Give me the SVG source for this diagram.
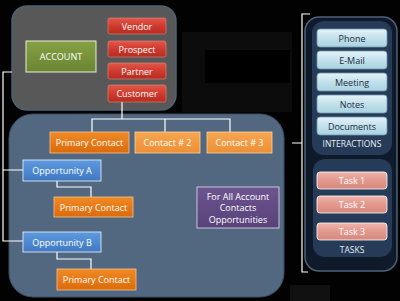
<svg xmlns="http://www.w3.org/2000/svg" width="400" height="301" viewBox="0 0 400 301">
<defs>
<linearGradient id="gRed" x1="0" y1="0" x2="0" y2="1"><stop offset="0" stop-color="#e2574a"/><stop offset="0.5" stop-color="#cf3b2e"/><stop offset="1" stop-color="#b52b20"/></linearGradient>
<linearGradient id="gGreen" x1="0" y1="0" x2="0" y2="1"><stop offset="0" stop-color="#86a043"/><stop offset="1" stop-color="#6a8532"/></linearGradient>
<linearGradient id="gOr" x1="0" y1="0" x2="0" y2="1"><stop offset="0" stop-color="#f08a25"/><stop offset="1" stop-color="#dc6a0a"/></linearGradient>
<linearGradient id="gOr2" x1="0" y1="0" x2="0" y2="1"><stop offset="0" stop-color="#f7a650"/><stop offset="1" stop-color="#ec8f35"/></linearGradient>
<linearGradient id="gBlue" x1="0" y1="0" x2="0" y2="1"><stop offset="0" stop-color="#5f9ae0"/><stop offset="1" stop-color="#3f78c0"/></linearGradient>
<linearGradient id="gPur" x1="0" y1="0" x2="0" y2="1"><stop offset="0" stop-color="#6d5590"/><stop offset="1" stop-color="#574278"/></linearGradient>
<linearGradient id="gIce" x1="0" y1="0" x2="0" y2="1"><stop offset="0" stop-color="#e4f3f8"/><stop offset="0.5" stop-color="#c2e1ec"/><stop offset="1" stop-color="#a9d2e0"/></linearGradient>
<linearGradient id="gPink" x1="0" y1="0" x2="0" y2="1"><stop offset="0" stop-color="#f0b4aa"/><stop offset="0.5" stop-color="#e2988e"/><stop offset="1" stop-color="#d8877c"/></linearGradient>
</defs>
<style>
text{font-family:"Open Sans","DejaVu Sans",sans-serif;text-anchor:middle;dominant-baseline:central}
.w{fill:#ffffff;font-size:9px}
.d{fill:#1c2b3c;font-size:9px}
.lbl{fill:#e6eef6;font-size:8.5px}
.conn{fill:none;stroke:#ffffff;stroke-width:1.2}
.red rect{fill:url(#gRed);stroke:#e88a80;stroke-width:0.6}
.ice rect{fill:url(#gIce);stroke:#6f97ad;stroke-width:0.8}
.pink rect{fill:url(#gPink);stroke:#ffffff;stroke-width:0.8}
</style>
<rect width="400" height="301" fill="#020202"/>
<rect x="182" y="32" width="110" height="80" fill="#0c0c0c"/>
<rect x="205" y="50" width="85" height="33" fill="#000"/>
<rect x="290" y="285" width="40" height="16" fill="#111"/>

<g id="accountPanel"><rect x="12" y="6" width="164" height="104" rx="15" fill="#585858" stroke="#4e6278" stroke-width="1.5"/></g>
<g id="contactsPanel"><rect x="9" y="114" width="275" height="183" rx="24" fill="#526880" stroke="#3c4e62" stroke-width="1"/></g>
<g id="rightPanel"><rect x="305" y="17" width="92" height="254" rx="14" fill="#0f1b2b" stroke="#4d6178" stroke-width="1.5"/></g>
<g id="interactionsPanel"><rect x="312" y="21" width="80" height="134" rx="12" fill="#263b57"/></g>
<g id="tasksPanel"><rect x="313" y="159" width="79" height="98" rx="12" fill="#263b57"/></g>

<g id="connectors">
<path class="conn" d="M122,102 V119 M92,132 V119 H230 V132 M165,119 V132"/>
<path class="conn" d="M12,72 H3 V241 H23 M3,170 H23"/>
<path class="conn" d="M57,181 V187 H91 V197 M57,252 V259 H91 V269"/>
<path class="conn" d="M310,14 H302 V272 H308 M302,143 H292"/>
</g>

<g id="account"><rect x="26" y="41" width="70" height="31" fill="url(#gGreen)" stroke="#e8efd8" stroke-width="1"/><text class="w" x="61" y="56.5">ACCOUNT</text></g>
<g id="vendor" class="red"><rect x="108" y="18" width="58" height="16" rx="2"/><text class="w" x="137" y="26">Vendor</text></g>
<g id="prospect" class="red"><rect x="108" y="41" width="58" height="16" rx="2"/><text class="w" x="137" y="49">Prospect</text></g>
<g id="partner" class="red"><rect x="108" y="63" width="58" height="16" rx="2"/><text class="w" x="137" y="71">Partner</text></g>
<g id="customer" class="red"><rect x="108" y="85" width="58" height="17" rx="2"/><text class="w" x="137" y="93.5">Customer</text></g>

<g id="primaryContact"><rect x="50" y="132" width="79" height="21" fill="url(#gOr)" stroke="#f7c48e" stroke-width="0.8"/><text class="w" x="89.5" y="142.5">Primary Contact</text></g>
<g id="contact2"><rect x="135" y="132" width="65" height="21" fill="url(#gOr2)" stroke="#fbd3a6" stroke-width="0.8"/><text class="w" x="167.5" y="142.5">Contact # 2</text></g>
<g id="contact3"><rect x="207" y="132" width="65" height="21" fill="url(#gOr2)" stroke="#fbd3a6" stroke-width="0.8"/><text class="w" x="239.5" y="142.5">Contact # 3</text></g>

<g id="opportunityA"><rect x="23" y="160" width="78" height="21" fill="url(#gBlue)" stroke="#dce8f6" stroke-width="0.9"/><text class="w" x="62" y="170.5">Opportunity A</text></g>
<g id="primaryContactA"><rect x="54" y="197" width="79" height="20" fill="url(#gOr)" stroke="#f7c48e" stroke-width="0.8"/><text class="w" x="93.5" y="207">Primary Contact</text></g>
<g id="opportunityB"><rect x="23" y="232" width="78" height="20" fill="url(#gBlue)" stroke="#dce8f6" stroke-width="0.9"/><text class="w" x="62" y="242">Opportunity B</text></g>
<g id="primaryContactB"><rect x="57" y="269" width="79" height="21" fill="url(#gOr)" stroke="#f7c48e" stroke-width="0.8"/><text class="w" x="96.5" y="279.5">Primary Contact</text></g>

<g id="forAll"><rect x="197" y="187" width="82" height="41" fill="url(#gPur)" stroke="#d7cfe3" stroke-width="0.9"/><text class="w" x="238" y="196">For All Account</text><text class="w" x="238" y="207.5">Contacts</text><text class="w" x="238" y="219">Opportunities</text></g>

<g id="phone" class="ice"><rect x="317" y="29" width="70" height="18" rx="3"/><text class="d" x="352" y="38">Phone</text></g>
<g id="email" class="ice"><rect x="317" y="51" width="70" height="18" rx="3"/><text class="d" x="352" y="60">E-Mail</text></g>
<g id="meeting" class="ice"><rect x="317" y="73" width="70" height="18" rx="3"/><text class="d" x="352" y="82">Meeting</text></g>
<g id="notes" class="ice"><rect x="317" y="95" width="70" height="18" rx="3"/><text class="d" x="352" y="104">Notes</text></g>
<g id="documents" class="ice"><rect x="317" y="117" width="70" height="18" rx="3"/><text class="d" x="352" y="126">Documents</text></g>
<text class="lbl" x="352" y="143.5">INTERACTIONS</text>

<g id="task1" class="pink"><rect x="317" y="172" width="70" height="17" rx="3"/><text class="w" x="352" y="180.5">Task 1</text></g>
<g id="task2" class="pink"><rect x="317" y="196" width="70" height="17" rx="3"/><text class="w" x="352" y="204.5">Task 2</text></g>
<g id="task3" class="pink"><rect x="317" y="223" width="70" height="17" rx="3"/><text class="w" x="352" y="231.5">Task 3</text></g>
<text class="lbl" x="352" y="249">TASKS</text>
</svg>
